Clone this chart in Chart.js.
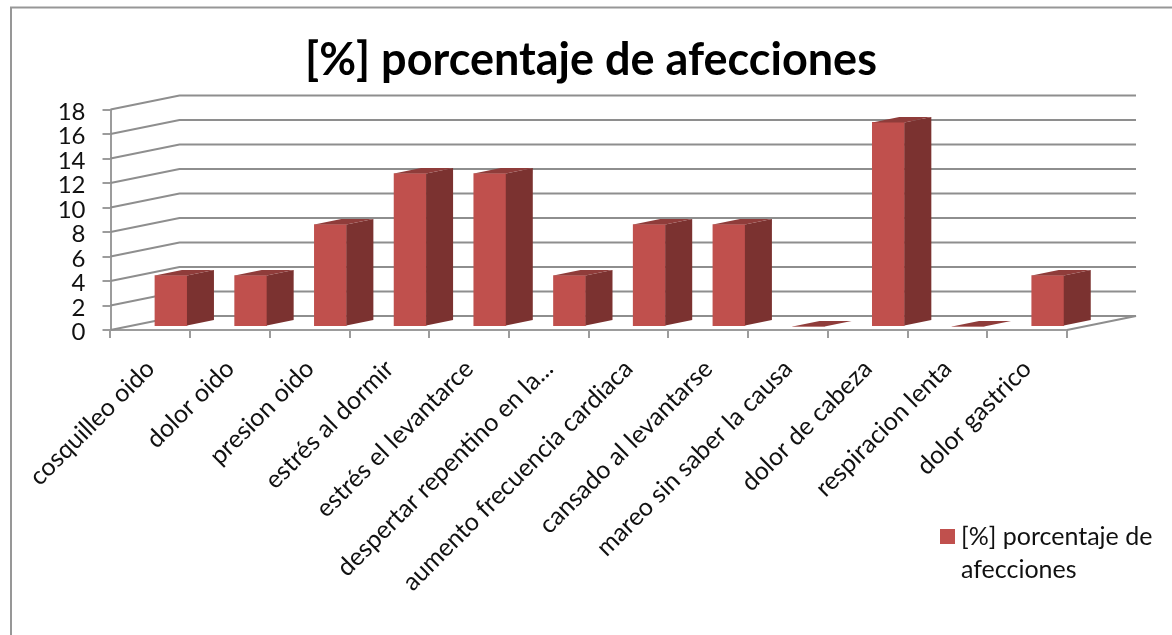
<!DOCTYPE html>
<html>
<head>
<meta charset="utf-8">
<style>
html, body { margin: 0; padding: 0; background: #fff; }
#wrap { position: relative; width: 1172px; height: 635px; }
</style>
<script src="https://cdn.jsdelivr.net/npm/chart.js@4"></script>
</head>
<body>
<div id="wrap"><canvas id="chart" width="1172" height="635"></canvas></div>
<script>
const categories = [
	"cosquilleo oido", "dolor oido", "presion oido", "estrés al dormir",
	"estrés el levantarce", "despertar repentino en la...", "aumento frecuencia cardiaca",
	"cansado al levantarse", "mareo sin saber la causa", "dolor de cabeza",
	"respiracion lenta", "dolor gastrico"
];
const seriesValues = [4.17, 4.17, 8.33, 12.5, 12.5, 4.17, 8.33, 8.33, 0, 16.67, 0, 4.17];
const seriesName = "[%] porcentaje de afecciones";
const legendLines = ["[%] porcentaje de", "afecciones"];

const FONT = "Lato, 'Open Sans', sans-serif";
const GRID = "#8e8e8e";
const AXIS = "#9c9c9c";

// floor depth of the fake 3D box, and where the bars sit inside it
const depthX = 69, depthY = -14;
const barShiftX = 20.6, barShiftY = -3.4;
const barSideX = 27, barSideY = -5.5;

function poly(ctx, pts, fill){
	ctx.beginPath();
	ctx.moveTo(pts[0][0], pts[0][1]);
	for(let i=1; i<pts.length; i++) ctx.lineTo(pts[i][0], pts[i][1]);
	ctx.closePath();
	ctx.fillStyle = fill;
	ctx.fill();
}

// 3D box walls, bar side faces, outer frame and wrapped legend
const fake3d = {
	id: 'fake3d',
	beforeDraw(chart){
		const ctx = chart.ctx;
		ctx.save();
		ctx.strokeStyle = "#979797";
		ctx.lineWidth = 2;
		ctx.beginPath();
		ctx.moveTo(11, 635);
		ctx.lineTo(11, 7.5);
		ctx.lineTo(1172, 7.5);
		ctx.stroke();
		ctx.restore();
	},
	beforeDatasetsDraw(chart){
		const ctx = chart.ctx, y = chart.scales.y, a = chart.chartArea;
		ctx.save();
		ctx.strokeStyle = GRID;
		ctx.lineWidth = 2;
		for(const t of y.ticks){
			let py = y.getPixelForValue(t.value);
			ctx.beginPath();
			ctx.moveTo(a.left, py);
			ctx.lineTo(a.left + depthX, py + depthY);
			ctx.lineTo(a.right + depthX, py + depthY);
			if(t.value === 0) ctx.lineTo(a.right, py);
			ctx.stroke();
		}
		ctx.restore();
	},
	beforeDatasetDraw(chart){
		chart.ctx.save();
		chart.ctx.translate(barShiftX, barShiftY);
	},
	afterDatasetDraw(chart, args){
		const ctx = chart.ctx;
		for(const bar of args.meta.data){
			let r = bar.x + bar.width / 2, l = bar.x - bar.width / 2;
			let top = bar.y, base = bar.base;
			poly(ctx, [[r, top], [r + barSideX, top + barSideY], [r + barSideX, base + barSideY], [r, base]], "#7b3230");
			poly(ctx, [[l, top], [l + barSideX, top + barSideY], [r + barSideX, top + barSideY], [r, top]], "#8f3c3a");
		}
		ctx.restore();
	},
	afterDraw(chart){
		const ctx = chart.ctx;
		ctx.save();
		ctx.fillStyle = "#c0504d";
		ctx.fillRect(940, 529, 15, 15);
		ctx.fillStyle = "#111";
		ctx.font = "25px " + FONT;
		ctx.textBaseline = "middle";
		legendLines.forEach((line, i) => ctx.fillText(line, 961, 537 + i * 33));
		ctx.restore();
	}
};

new Chart(document.getElementById("chart"), {
	type: 'bar',
	plugins: [fake3d],
	data: {
		labels: categories,
		datasets: [{
			label: seriesName,
			data: seriesValues,
			backgroundColor: "#c0504d",
			barThickness: 32,
			borderWidth: 0,
			yAxisID: 'y'
		}]
	},
	options: {
		responsive: false,
		animation: false,
		layout: { padding: { left: 20, right: 10, top: 0, bottom: 0 } },
		plugins: {
			legend: { display: false },
			tooltip: { enabled: false },
			title: {
				display: true,
				text: seriesName,
				color: "#000",
				font: { family: FONT, size: 45, weight: 'bold', lineHeight: 1.2 },
				padding: { top: 33, bottom: 22.5 }
			}
		},
		scales: {
			x: {
				afterFit(scale){ scale.height = 305; },
				grid: { drawOnChartArea: false, drawTicks: true, tickLength: 8, color: AXIS, lineWidth: 2 },
				border: { display: true, color: AXIS, width: 2 },
				ticks: {
					autoSkip: false, minRotation: 45, maxRotation: 45,
					color: "#111", padding: 16,
					font: { family: FONT, size: 25 }
				}
			},
			y: {
				min: 0, max: 18,
				afterFit(scale){ scale.width = 90.5; },
				grid: { drawOnChartArea: false, drawTicks: true, tickLength: 8, color: AXIS, lineWidth: 2 },
				border: { display: true, color: AXIS, width: 2 },
				ticks: {
					stepSize: 2, autoSkip: false, color: "#111", padding: 17, labelOffset: 2.5,
					font: { family: FONT, size: 24 }
				}
			},
			// empty axis, only keeps the legend space on the right so the title stays centred
			spacer: {
				type: 'linear', position: 'right',
				afterFit(scale){ scale.width = 95; },
				grid: { display: false },
				border: { display: false },
				ticks: { display: false }
			}
		}
	}
});
</script>
</body>
</html>
